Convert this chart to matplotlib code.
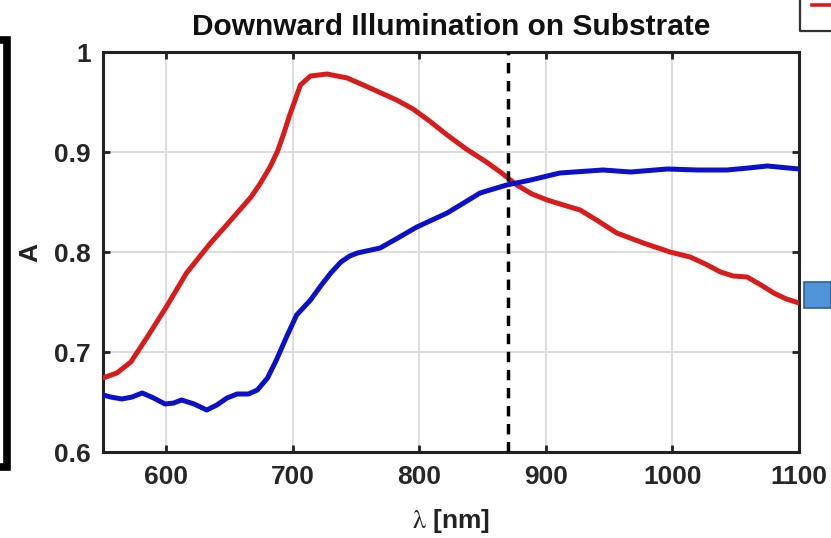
import matplotlib
matplotlib.use("Agg")
import matplotlib.pyplot as plt
from matplotlib.lines import Line2D
from matplotlib.patches import Rectangle

plt.rcParams['font.family'] = ['Liberation Sans', 'DejaVu Sans']
plt.rcParams['mathtext.fontset'] = 'stix'

# ---- data ----
red_wl = [550, 561, 572, 585, 600, 616, 635, 647, 658, 667, 674, 682, 688, 693, 697, 701,
          706, 714, 727, 743, 761, 782, 795, 808, 822, 837, 853, 865, 877, 889, 901,
          919, 927, 940, 956, 977, 998, 1014, 1026, 1038, 1048, 1059, 1070, 1080,
          1090, 1100]
red_A = [0.674, 0.679, 0.690, 0.715, 0.745, 0.779, 0.809, 0.826, 0.842, 0.855, 0.868, 0.885,
         0.901, 0.919, 0.935, 0.949, 0.967, 0.976, 0.978, 0.974, 0.964, 0.952, 0.943,
         0.931, 0.917, 0.903, 0.890, 0.879, 0.867, 0.858, 0.852, 0.845, 0.842, 0.832,
         0.819, 0.809, 0.800, 0.795, 0.788, 0.780, 0.776, 0.775, 0.767, 0.759, 0.753,
         0.749]

blue_wl = [550, 556, 565, 573, 581, 590, 599, 606, 612, 622, 632, 640, 648, 656, 665,
           672, 680, 687, 695, 703, 714, 722, 730, 738, 745, 751, 769, 783, 798, 810,
           822, 835, 848, 869, 888, 911, 945, 967, 996, 1020, 1043, 1060, 1075, 1100]
blue_A = [0.657, 0.655, 0.653, 0.655, 0.659, 0.654, 0.648, 0.649, 0.652, 0.648, 0.642,
          0.647, 0.654, 0.658, 0.658, 0.662, 0.674, 0.692, 0.715, 0.737, 0.752, 0.766,
          0.779, 0.790, 0.796, 0.799, 0.804, 0.814, 0.825, 0.832, 0.839, 0.849, 0.859,
          0.867, 0.872, 0.879, 0.882, 0.880, 0.883, 0.882, 0.882, 0.884, 0.886, 0.883]

vline_wl = 870
x_ticks = [600, 700, 800, 900, 1000, 1100]
y_ticks = [0.6, 0.7, 0.8, 0.9, 1.0]
y_tick_labels = ['0.6', '0.7', '0.8', '0.9', '1']
title = 'Downward Illumination on Substrate'
xlabel = r'$\mathrm{\lambda}$ [nm]'
ylabel = 'A'

W, H = 831, 538
fig = plt.figure(figsize=(W / 100, H / 100), dpi=100)
ax = fig.add_axes([103 / W, 1 - 452 / H, (799 - 103) / W, (452 - 52) / H])

ax.plot(red_wl, red_A, color='#d81c1c', lw=3.6, solid_capstyle='round',
        solid_joinstyle='round', zorder=3)
ax.plot(blue_wl, blue_A, color='#0c10c8', lw=3.6, solid_capstyle='round',
        solid_joinstyle='round', zorder=3)
ax.axvline(vline_wl, color='black', lw=2.5, dashes=(3, 2.2), zorder=4)

ax.set_xlim(550, 1100)
ax.set_ylim(0.6, 1.0)
ax.set_xticks(x_ticks)
ax.set_yticks(y_ticks)
ax.set_yticklabels(y_tick_labels)
ax.grid(True, color='#dadada', lw=1.3)
ax.set_axisbelow(True)
ax.tick_params(direction='in', length=5, width=2, top=True, right=True,
               labelsize=19, colors='#222222', labelcolor='#262626')
ax.tick_params(axis='x', pad=9)
ax.tick_params(axis='y', pad=9)
for lab in ax.get_xticklabels() + ax.get_yticklabels():
    lab.set_fontweight('bold')
for s in ax.spines.values():
    s.set_linewidth(2.2)
    s.set_color('#222222')

ax.set_title(title, fontsize=21.5, fontweight='bold', pad=12, color='#111111')
ax.set_xlabel(xlabel, fontsize=19, fontweight='bold', labelpad=13, color='#222222')
ax.set_ylabel(ylabel, fontsize=19, fontweight='bold', labelpad=8, color='#222222')

# ---- cropped neighbouring elements ----
def fx(x):
    return x / W

def fy(y):
    return 1 - y / H

# left bracket
fig.add_artist(Line2D([fx(0), fx(7), fx(7), fx(0)], [fy(40), fy(40), fy(467), fy(467)],
                      color='black', lw=5.5, solid_joinstyle='miter',
                      transform=fig.transFigure))
# legend box fragment (top right)
fig.add_artist(Line2D([fx(831), fx(800), fx(800)], [fy(31), fy(31), fy(-5)],
                      color='#333333', lw=1.6, transform=fig.transFigure))
fig.add_artist(Line2D([fx(812), fx(831)], [fy(5), fy(5)], color='#d81c1c', lw=2.6,
                      transform=fig.transFigure))
# blue rectangle fragment (right)
fig.add_artist(Rectangle((fx(804), fy(308)), fx(831) - fx(804), fy(282) - fy(308),
                         facecolor='#4f93d8', edgecolor='#2f5f90', lw=1.2,
                         transform=fig.transFigure))

fig.savefig('out.png', dpi=100, facecolor='white')
